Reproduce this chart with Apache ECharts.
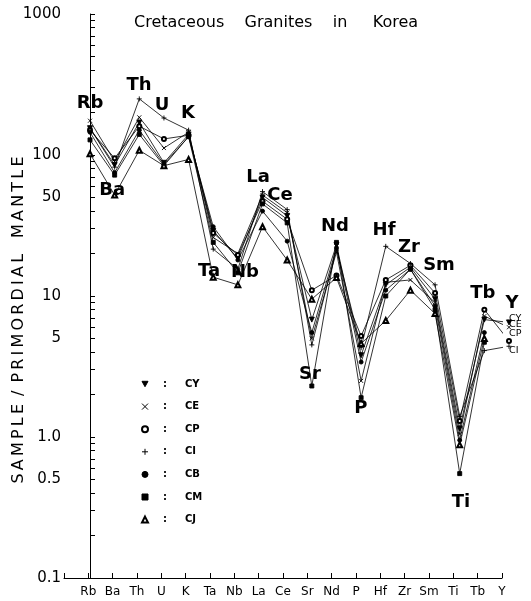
<!DOCTYPE html>
<html><head><meta charset="utf-8">
<script src="https://cdn.jsdelivr.net/npm/echarts@6/dist/echarts.min.js"></script>
<style>html,body{margin:0;padding:0;background:#fff}#c{width:531px;height:601px}</style>
</head><body><div id="c"></div>
<script>
// ---- data ----
const elements = ['Rb','Ba','Th','U','K','Ta','Nb','La','Ce','Sr','Nd','P','Hf','Zr','Sm','Ti','Tb','Y'];
const seriesNames = ['CY','CE','CP','CI','CB','CM','CJ'];
const CY = [155, 85, 170, 88, 140, 29, 18.5, 50, 37, 6.8, 23, 3.8, 12, 16, 9.5, 1.15, 6.8, 6.5];
const CE = [175, 90, 185, 112, 145, 26, 20, 52, 39, 5.0, 20.5, 2.5, 12.5, 13, 9, 1.05, 7.2, 6.0];
const CP = [150, 95, 160, 130, 138, 28, 19.5, 47, 35, 11, 14, 5.2, 13, 16.5, 10.5, 1.3, 8.0, 4.8];
const CI = [155, 82, 250, 183, 150, 21.5, 15.5, 55, 41, 4.5, 21.5, 4.3, 22.5, 17, 12, 1.4, 4.1, 4.4];
const CB = [145, 75, 150, 86, 135, 31, 18, 40, 24.5, 5.5, 22, 3.4, 11, 15.5, 8.5, 0.95, 5.5, null];
const CM = [128, 72, 140, 84, 135, 24, 14.6, 45, 33, 2.3, 24, 1.9, 10, 15.5, 8, 0.55, 4.7, null];
const CJ = [102, 52, 108, 84, 93, 13.6, 12, 31, 18, 9.5, 13.5, 4.6, 6.7, 11, 7.5, 0.88, 5.0, null];
const yTickValues = [0.1,0.2,0.3,0.4,0.5,0.6,0.7,0.8,0.9,1,2,3,4,5,6,7,8,9,10,20,30,40,50,60,70,80,90,100,200,300,400,500,600,700,800,900,1000];
const yLabelValues = [0.1,0.5,1,5,10,50,100,1000];
// element annotations placed in data space: [category position, value, text]
const annotations = [
  [0, 234, 'Rb'], [0.9, 56.5, 'Ba'], [1.99, 314, 'Th'], [2.92, 226, 'U'], [3.98, 199, 'K'],
  [4.83, 15, 'Ta'], [6.29, 14.8, 'Nb'], [6.82, 70, 'La'], [7.71, 52, 'Ce'], [8.92, 2.8, 'Sr'],
  [9.94, 31, 'Nd'], [10.99, 1.61, 'P'], [11.93, 29, 'Hf'], [12.94, 22, 'Zr'], [14.16, 16.6, 'Sm'],
  [15.05, 0.346, 'Ti'], [15.94, 10.5, 'Tb'], [17.12, 8.9, 'Y']
];

// ---- styles ----
const FONT = 'DejaVu Sans';
const symbols = {
  CY: 'path://M0,0L10,0L5,9Z',
  CE: 'path://M0,0L10,10M10,0L0,10',
  CP: 'emptyCircle',
  CI: 'path://M5,0L5,10M0,5L10,5',
  CB: 'circle',
  CM: 'rect',
  CJ: 'emptyTriangle'
};
const sizes = {CY:5, CE:4, CP:4, CI:5, CB:4, CM:4, CJ:5};
const endOffsets = {CY:[0,-3], CE:[0,0], CP:[0,0], CI:[0,3]};
const dataMap = {CY, CE, CP, CI, CB, CM, CJ};

const lineSeries = seriesNames.map(n => ({
  name: n,
  type: 'line',
  xAxisIndex: 0,
  yAxisIndex: 0,
  clip: false,
  data: dataMap[n].map((v, i) => [i, v]).filter(d => d[1] != null),
  symbol: symbols[n],
  symbolSize: sizes[n],
  showAllSymbol: true,
  lineStyle: {color: '#000', width: 0.8},
  itemStyle: {color: '#000', borderColor: '#000', borderWidth: 0.9},
  emphasis: {disabled: true},
  endLabel: endOffsets[n] ? {
    show: true, formatter: n, color: '#000', fontFamily: FONT, fontSize: 9.5,
    distance: 6, offset: endOffsets[n]
  } : {show: false}
}));

const annotationSeries = {
  type: 'scatter',
  xAxisIndex: 0,
  yAxisIndex: 0,
  clip: false,
  silent: true,
  symbol: 'circle',
  symbolSize: 1,
  itemStyle: {color: 'rgba(0,0,0,0)', opacity: 1},
  emphasis: {disabled: true},
  data: annotations.map(a => ({value: [a[0], a[1]], name: a[2]})),
  label: {show: true, position: 'inside', formatter: '{b}', color: '#000', opacity: 1,
    textBorderWidth: 0, fontFamily: FONT, fontSize: 18, fontWeight: 'bold'}
};

const chart = echarts.init(document.getElementById('c'), null, {renderer: 'canvas'});
chart.setOption({
  animation: false,
  backgroundColor: '#fff',
  title: {
    text: 'Cretaceous    Granites    in     Korea',
    left: 134, top: 15, padding: 0,
    textStyle: {fontFamily: FONT, fontSize: 16, fontWeight: 'normal', color: '#000'}
  },
  graphic: [{
    type: 'text', x: 19, y: 320, rotation: Math.PI / 2,
    style: {
      text: 'S\u2009A\u2009M\u2009P\u2009L\u2009E\u2002/\u2002P\u2009R\u2009I\u2009M\u2009O\u2009R\u2009D\u2009I\u2009A\u2009L\u2003M\u2009A\u2009N\u2009T\u2009L\u2009E',
      fill: '#000', font: '16px "DejaVu Sans"', align: 'center', verticalAlign: 'middle'
    }
  }],
  legend: {
    orient: 'vertical', left: 141, top: 378, padding: 0,
    itemWidth: 6, itemHeight: 6, itemGap: 10.6,
    selectedMode: false,
    data: seriesNames.map(n => ({name: n, icon: symbols[n],
      itemStyle: {color: '#000', borderColor: '#000', borderWidth: 1}})),
    formatter: n => '{c|:}{n|' + n + '}',
    textStyle: {
      color: '#000', fontFamily: FONT, fontSize: 10, lineHeight: 12,
      rich: {
        c: {width: 22, padding: [0, 0, 0, 10], fontFamily: FONT, fontSize: 10, fontWeight: 'bold'},
        n: {fontFamily: FONT, fontSize: 10, fontWeight: 'bold'}
      }
    }
  },
  grid: {left: 64, right: 29, top: 14, bottom: 23, containLabel: false},
  xAxis: [{
    type: 'value', min: -1.055, max: 16.716, show: false, position: 'bottom'
  }, {
    type: 'value', min: -1, max: 17, interval: 1, position: 'bottom',
    axisLine: {show: true, lineStyle: {color: '#000', width: 1}},
    axisTick: {show: true, inside: true, length: 5, lineStyle: {color: '#000'}},
    splitLine: {show: false},
    axisLabel: {
      color: '#000', fontFamily: FONT, fontSize: 12, margin: 8,
      formatter: v => (v >= 0 && v < elements.length) ? elements[v] : ''
    }
  }],
  yAxis: [{
    type: 'log', logBase: 10, min: 0.1, max: 1000,
    axisLine: {show: true, lineStyle: {color: '#000', width: 1}},
    axisTick: {show: true, inside: true, length: 5, customValues: yTickValues, lineStyle: {color: '#000'}},
    splitLine: {show: false},
    axisLabel: {
      customValues: yLabelValues,
      color: '#000', fontFamily: FONT, fontSize: 15, margin: 3,
      formatter: v => {
        if (Math.abs(v - 1) < 1e-9) return '1.0';
        if (v < 1) return v.toFixed(1);
        return String(Math.round(v));
      }
    }
  }],
  series: lineSeries.concat([annotationSeries])
});
</script>
</body></html>
